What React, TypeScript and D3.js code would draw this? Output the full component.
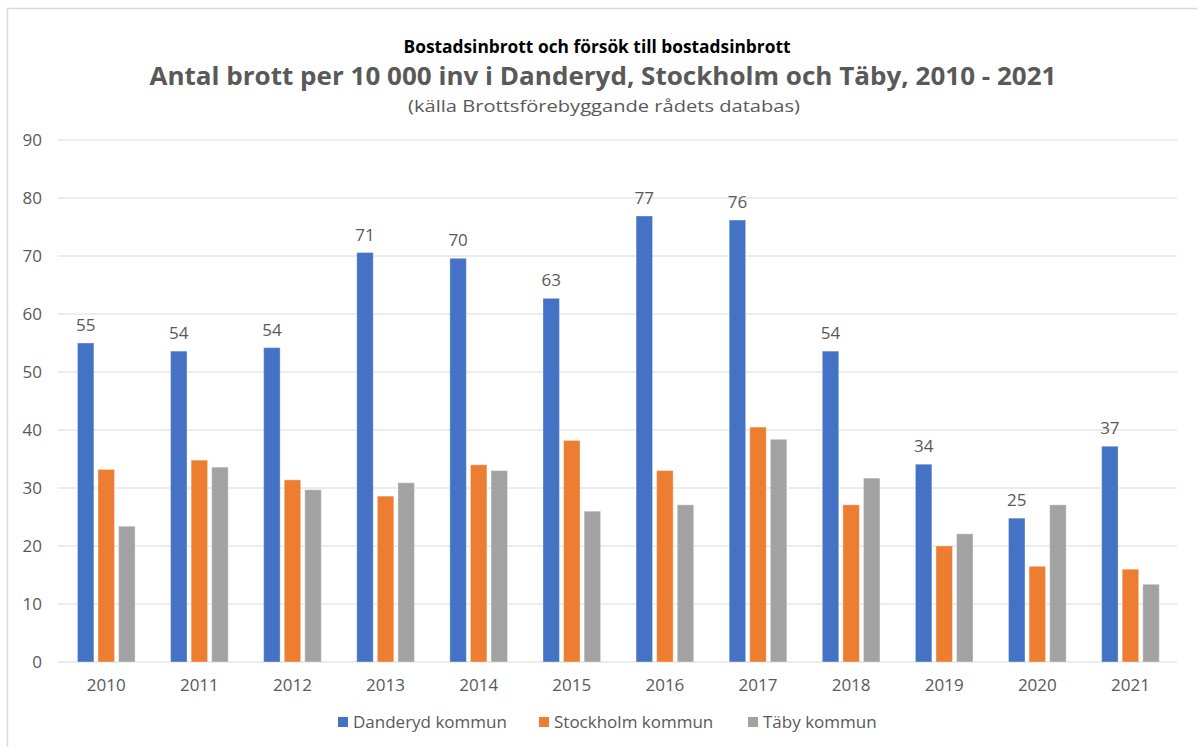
import React from "react";
import * as d3 from "d3";

const years = ["2010","2011","2012","2013","2014","2015","2016","2017","2018","2019","2020","2021"];
const seriesNames = ["Danderyd kommun", "Stockholm kommun", "Täby kommun"];
const danderyd = [55.0, 53.6, 54.2, 70.6, 69.6, 62.7, 76.9, 76.2, 53.6, 34.1, 24.8, 37.2];
const stockholm = [33.2, 34.8, 31.4, 28.6, 34.0, 38.2, 33.0, 40.5, 27.1, 20.0, 16.5, 16.0];
const taby = [23.4, 33.6, 29.7, 30.9, 33.0, 26.0, 27.1, 38.4, 31.7, 22.1, 27.1, 13.4];
const yTicks = [0, 10, 20, 30, 40, 50, 60, 70, 80, 90];
const colors = ["#4472C4", "#ED7D31", "#A5A5A5"];
const titleLine1 = "Bostadsinbrott och försök till bostadsinbrott";
const titleLine2 = "Antal brott per 10 000 inv i Danderyd, Stockholm och Täby, 2010 - 2021";
const titleLine3 = "(källa Brottsförebyggande rådets databas)";

const W = 1197;
const H = 747;
const plotLeft = 59.7;
const plotRight = 1177;
const plotTop = 140;
const plotBottom = 662;
const FONT = "'Segoe UI', 'Open Sans', sans-serif";
const TEXT = "#595959";

export default function App() {
  const seriesValues = [danderyd, stockholm, taby];
  const x0 = d3.scaleBand<string>().domain(years).range([plotLeft, plotRight]).paddingInner(0.381).paddingOuter(0.1905);
  const x1 = d3.scaleBand<number>().domain([0, 1, 2]).range([0, x0.bandwidth()]).paddingInner(0.2).paddingOuter(0);
  const y = d3.scaleLinear().domain([0, 90]).range([plotBottom, plotTop]);

  const legendX = [338, 539, 748];

  return (
    <svg width={W} height={H} style={{ position: "absolute", left: 0, top: 0, background: "#fff" }} fontFamily={FONT}>
      <defs>
        <pattern id="grayTex" width="4" height="4" patternUnits="userSpaceOnUse">
          <rect width="4" height="4" fill="#A5A5A5" />
          <path d="M0 2 L2 0 M2 4 L4 2" stroke="#9a9a9a" strokeWidth="1" />
        </pattern>
      </defs>
      <rect x={0} y={0} width={W} height={H} fill="#fff" />
      <rect x={7.5} y={8.5} width={W} height={H} fill="none" stroke="#d9d9d9" strokeWidth={1.5} />

      <text x={597} y={53} textAnchor="middle" fontFamily="'Open Sans', sans-serif" fontWeight="bold" fontSize={17} fill="#000" textLength={387} lengthAdjust="spacingAndGlyphs">{titleLine1}</text>
      <text x={603} y={85} textAnchor="middle" fontFamily="'Open Sans', sans-serif" fontWeight="bold" fontSize={25} fill={TEXT} textLength={907} lengthAdjust="spacingAndGlyphs">{titleLine2}</text>
      <text x={604} y={112} textAnchor="middle" fontFamily="'Open Sans', sans-serif" fontSize={17} fill={TEXT} textLength={392} lengthAdjust="spacingAndGlyphs">{titleLine3}</text>

      {yTicks.map((t) => (
        <g key={t}>
          <line x1={plotLeft - 2} x2={plotRight} y1={y(t)} y2={y(t)} stroke="#d9d9d9" strokeWidth={1.2} />
          <text x={42} y={y(t)} dy="0.35em" textAnchor="end" fontSize={17} fill={TEXT}>{t}</text>
        </g>
      ))}

      {years.map((yr, i) => (
        <g key={yr} transform={`translate(${x0(yr)},0)`}>
          {seriesValues.map((vals, s) => (
            <rect
              key={s}
              x={x1(s)}
              y={y(vals[i])}
              width={x1.bandwidth()}
              height={plotBottom - y(vals[i])}
              fill={s === 2 ? "url(#grayTex)" : colors[s]}
              stroke="#ffffff"
              strokeOpacity={0.35}
              strokeWidth={1}
            />
          ))}
          <text
            x={(x1(0) as number) + x1.bandwidth() / 2}
            y={y(danderyd[i]) - 12}
            textAnchor="middle"
            fontSize={17}
            fill={TEXT}
          >
            {Math.round(danderyd[i])}
          </text>
          <text x={x0.bandwidth() / 2} y={691} textAnchor="middle" fontSize={17} fill={TEXT}>{yr}</text>
        </g>
      ))}

      {seriesNames.map((name, s) => (
        <g key={name} transform={`translate(${legendX[s]},722)`}>
          <rect x={0} y={-5} width={10} height={10} fill={s === 2 ? "url(#grayTex)" : colors[s]} />
          <text x={15} y={0} dy="0.35em" fontSize={17} fill={TEXT}>{name}</text>
        </g>
      ))}
    </svg>
  );
}
